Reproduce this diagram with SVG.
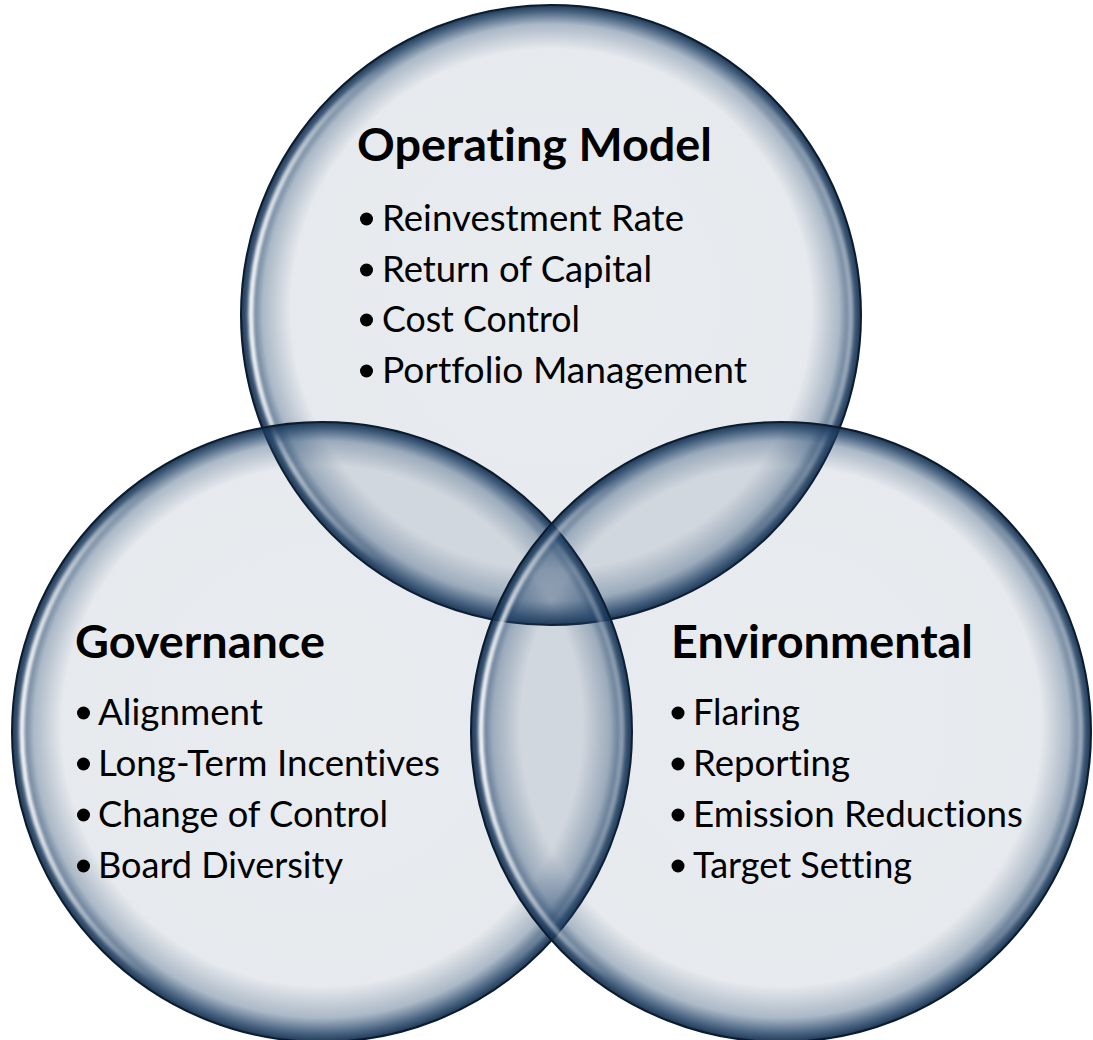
<svg xmlns="http://www.w3.org/2000/svg" width="1093" height="1040" viewBox="0 0 1093 1040">
  <defs>
    <!-- glassy disc: faint tint in the middle, dark navy towards the rim -->
    <radialGradient id="glass" cx="0.5" cy="0.5" r="0.5" fx="0.5" fy="0.44">
      <stop offset="0" stop-color="#1f3d60" stop-opacity="0.10"/>
      <stop offset="0.84" stop-color="#1f3d60" stop-opacity="0.11"/>
      <stop offset="0.93" stop-color="#22456c" stop-opacity="0.38"/>
      <stop offset="0.975" stop-color="#1d3e63" stop-opacity="0.8"/>
      <stop offset="1" stop-color="#15304f" stop-opacity="0.96"/>
    </radialGradient>
    <!-- side rim light, strongest on the left -->
    <linearGradient id="rimlight" x1="0" y1="0" x2="1" y2="0">
      <stop offset="0" stop-color="#ffffff" stop-opacity="0.95"/>
      <stop offset="0.22" stop-color="#ffffff" stop-opacity="0"/>
      <stop offset="0.8" stop-color="#ffffff" stop-opacity="0"/>
      <stop offset="1" stop-color="#ffffff" stop-opacity="0.4"/>
    </linearGradient>
    <filter id="soft" x="-5%" y="-5%" width="110%" height="110%">
      <feGaussianBlur stdDeviation="1.6"/>
    </filter>
  </defs>
  <style>
    .disc { fill: url(#glass); stroke: #0c1c2f; stroke-width: 2; }
    .shine { fill: none; stroke: url(#rimlight); stroke-width: 5; filter: url(#soft); }
    .title { font-family: Lato, "Liberation Sans", sans-serif; font-weight: 700; font-size: 45px; fill: #000; font-variant-ligatures: none; }
    .item { font-family: Lato, "Liberation Sans", sans-serif; font-size: 36px; fill: #000; font-variant-ligatures: none; }
    .dot { fill: #000; }
  </style>

  <rect width="1093" height="1040" fill="#ffffff"/>

  <g id="operating-model">
    <circle class="disc" cx="551" cy="315" r="310"/>
    <circle class="shine" cx="551" cy="315" r="300"/>
    <text class="title" x="357" y="161" textLength="355" lengthAdjust="spacingAndGlyphs">Operating Model</text>
    <circle class="dot" cx="366.5" cy="219" r="6.5"/>
    <text class="item" x="382" y="231" textLength="302" lengthAdjust="spacingAndGlyphs">Reinvestment Rate</text>
    <circle class="dot" cx="366.5" cy="270" r="6.5"/>
    <text class="item" x="382" y="282" textLength="270" lengthAdjust="spacingAndGlyphs">Return of Capital</text>
    <circle class="dot" cx="366.5" cy="320" r="6.5"/>
    <text class="item" x="382" y="332" textLength="198" lengthAdjust="spacingAndGlyphs">Cost Control</text>
    <circle class="dot" cx="366.5" cy="371" r="6.5"/>
    <text class="item" x="382" y="383" textLength="365" lengthAdjust="spacingAndGlyphs">Portfolio Management</text>
  </g>

  <g id="governance">
    <circle class="disc" cx="322" cy="732" r="310"/>
    <circle class="shine" cx="322" cy="732" r="300"/>
    <text class="title" x="75" y="658" textLength="250" lengthAdjust="spacingAndGlyphs">Governance</text>
    <circle class="dot" cx="83.5" cy="713" r="6.5"/>
    <text class="item" x="98" y="725" textLength="165" lengthAdjust="spacingAndGlyphs">Alignment</text>
    <circle class="dot" cx="83.5" cy="764" r="6.5"/>
    <text class="item" x="98" y="776" textLength="342" lengthAdjust="spacingAndGlyphs">Long-Term Incentives</text>
    <circle class="dot" cx="83.5" cy="815" r="6.5"/>
    <text class="item" x="98" y="827" textLength="290" lengthAdjust="spacingAndGlyphs">Change of Control</text>
    <circle class="dot" cx="83.5" cy="866" r="6.5"/>
    <text class="item" x="98" y="878" textLength="245" lengthAdjust="spacingAndGlyphs">Board Diversity</text>
  </g>

  <g id="environmental">
    <circle class="disc" cx="781" cy="732" r="310"/>
    <circle class="shine" cx="781" cy="732" r="300"/>
    <text class="title" x="671" y="658" textLength="302" lengthAdjust="spacingAndGlyphs">Environmental</text>
    <circle class="dot" cx="678" cy="713" r="6.5"/>
    <text class="item" x="693" y="725" textLength="107" lengthAdjust="spacingAndGlyphs">Flaring</text>
    <circle class="dot" cx="678" cy="764" r="6.5"/>
    <text class="item" x="693" y="776" textLength="157" lengthAdjust="spacingAndGlyphs">Reporting</text>
    <circle class="dot" cx="678" cy="815" r="6.5"/>
    <text class="item" x="693" y="827" textLength="330" lengthAdjust="spacingAndGlyphs">Emission Reductions</text>
    <circle class="dot" cx="678" cy="866" r="6.5"/>
    <text class="item" x="693" y="878" textLength="219" lengthAdjust="spacingAndGlyphs">Target Setting</text>
  </g>

  <g id="connectors"/>
</svg>
